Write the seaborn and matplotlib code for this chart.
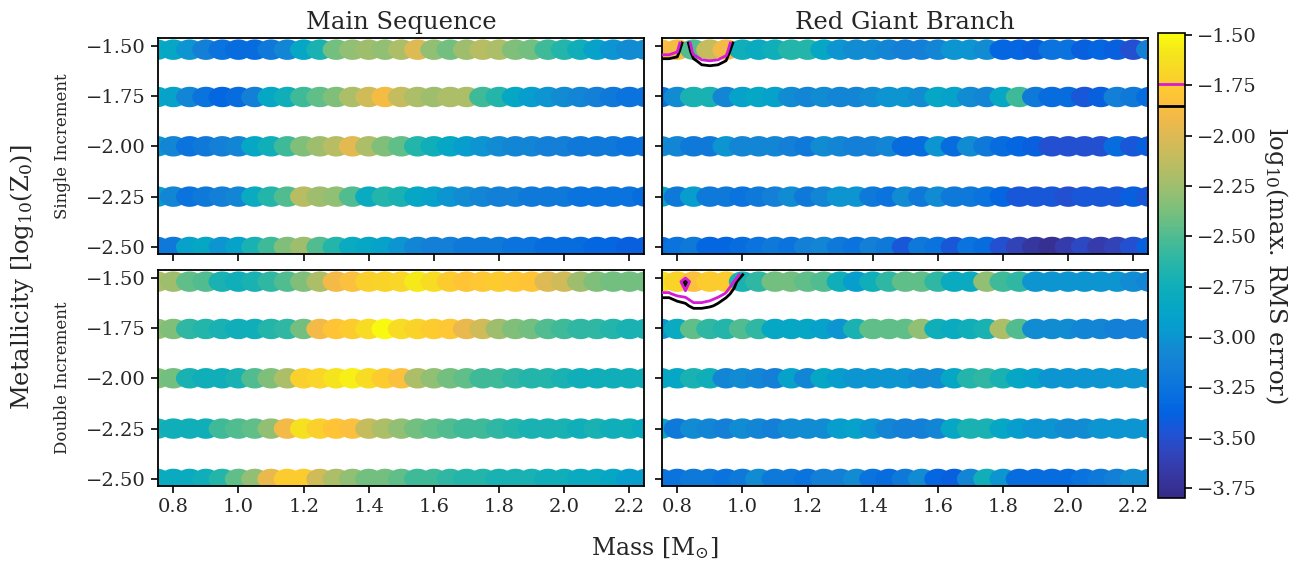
import numpy as np
import pandas as pd
import matplotlib
matplotlib.use("Agg")
import matplotlib.pyplot as plt
from matplotlib.colors import LinearSegmentedColormap, Normalize
from matplotlib.cm import ScalarMappable
from matplotlib.path import Path
import seaborn as sns

# ---- data ----
masses = [0.75, 0.80, 0.85, 0.90, 0.95, 1.00, 1.05, 1.10, 1.15, 1.20, 1.25,
          1.30, 1.35, 1.40, 1.45, 1.50, 1.55, 1.60, 1.65, 1.70, 1.75, 1.80,
          1.85, 1.90, 1.95, 2.00, 2.05, 2.10, 2.15, 2.20, 2.25]
metallicities = [-1.52, -1.755, -2.0, -2.25, -2.5]

# log10(max RMS error), one row per metallicity
ms_single = [
    [-2.8, -2.85, -3.0, -3.15, -3.25, -3.3, -3.3, -3.2, -3.1, -2.85, -2.7, -2.4, -2.3, -2.25, -2.3, -2.2,
     -2.0, -2.3, -2.4, -2.25, -2.15, -2.2, -2.35, -2.4, -2.55, -2.65, -2.75, -2.9, -3.0, -3.05, -3.05],
    [-2.85, -2.9, -3.1, -3.25, -3.35, -3.3, -3.15, -2.85, -2.75, -2.55, -2.45, -2.35, -2.2, -2.05, -1.88, -2.1,
     -2.2, -2.25, -2.2, -2.2, -2.55, -2.65, -2.85, -2.95, -3.0, -3.05, -3.1, -3.15, -3.2, -3.25, -3.25],
    [-3.0, -3.1, -3.25, -3.2, -3.15, -3.1, -2.85, -2.75, -2.55, -2.35, -2.25, -2.15, -1.97, -2.2, -2.35, -2.45,
     -2.65, -2.75, -2.85, -2.95, -3.0, -3.05, -3.1, -3.1, -3.15, -3.15, -3.2, -3.2, -3.2, -3.25, -3.25],
    [-2.95, -3.1, -3.25, -3.2, -3.15, -3.1, -2.8, -2.65, -2.5, -2.15, -2.25, -2.3, -2.5, -2.8, -2.65, -2.7,
     -2.85, -2.9, -3.0, -3.05, -3.1, -3.15, -3.15, -3.2, -3.2, -3.2, -3.25, -3.25, -3.25, -3.25, -3.3],
    [-3.2, -3.2, -2.9, -2.85, -3.0, -2.9, -2.7, -2.55, -2.35, -2.25, -2.5, -2.65, -2.8, -2.85, -2.9, -3.0,
     -3.1, -3.15, -3.15, -3.2, -3.2, -3.2, -3.25, -3.25, -3.3, -3.3, -3.3, -3.35, -3.35, -3.4, -3.4],
]
rgb_single = [
    [-1.85, -1.88, -2.5, -2.1, -1.9, -2.75, -2.8, -2.75, -2.65, -2.65, -2.85, -3.0, -3.05, -3.05, -3.1, -3.15,
     -3.15, -3.1, -3.0, -3.0, -3.05, -3.35, -3.35, -3.4, -3.25, -3.25, -3.4, -3.35, -3.4, -3.5, -3.15],
    [-3.25, -3.05, -2.7, -2.7, -3.1, -2.9, -2.85, -2.9, -3.05, -3.1, -3.05, -3.1, -3.1, -3.05, -3.0, -3.0,
     -3.05, -2.85, -2.9, -3.05, -3.1, -2.85, -2.55, -3.2, -3.3, -3.3, -3.45, -3.4, -3.15, -3.2, -3.3],
    [-3.05, -3.1, -3.2, -3.2, -3.0, -3.1, -3.1, -3.1, -3.15, -3.2, -3.05, -3.1, -3.15, -3.15, -3.1, -3.3,
     -3.3, -3.0, -3.3, -3.05, -3.2, -3.3, -3.35, -3.4, -3.5, -3.5, -3.5, -3.5, -3.3, -3.45, -3.4],
    [-2.85, -3.2, -2.95, -3.2, -3.2, -3.25, -3.2, -3.15, -3.05, -3.2, -3.1, -3.0, -3.0, -3.2, -3.25, -3.05,
     -3.2, -3.05, -3.2, -3.2, -3.25, -3.35, -3.45, -3.45, -3.45, -3.5, -3.45, -3.45, -3.45, -3.4, -3.45],
    [-3.3, -3.25, -3.2, -3.35, -3.35, -3.3, -3.25, -3.2, -3.25, -3.15, -3.1, -3.2, -3.25, -3.15, -3.2, -3.45,
     -3.2, -3.25, -3.45, -3.25, -3.3, -3.5, -3.6, -3.7, -3.75, -3.65, -3.55, -3.65, -3.6, -3.5, -3.4],
]
ms_double = [
    [-2.2, -2.25, -2.45, -2.5, -2.7, -2.75, -2.7, -2.6, -2.5, -2.35, -2.2, -1.9, -1.85, -1.72, -1.7, -1.68,
     -1.58, -1.65, -1.75, -1.8, -1.78, -1.75, -1.78, -1.8, -2.0, -2.05, -2.25, -2.35, -2.4, -2.4, -2.4],
    [-2.3, -2.35, -2.6, -2.65, -2.7, -2.75, -2.75, -2.65, -2.6, -2.4, -1.9, -1.8, -1.75, -1.65, -1.5, -1.65,
     -1.7, -1.75, -1.78, -1.95, -2.05, -2.25, -2.35, -2.4, -2.5, -2.55, -2.6, -2.6, -2.65, -2.7, -2.7],
    [-2.35, -2.4, -2.7, -2.75, -2.75, -2.7, -2.5, -2.35, -2.2, -1.72, -1.68, -1.6, -1.55, -1.65, -1.75, -1.85,
     -2.2, -2.3, -2.4, -2.45, -2.55, -2.55, -2.6, -2.65, -2.65, -2.7, -2.75, -2.75, -2.75, -2.75, -2.75],
    [-2.7, -2.75, -2.75, -2.75, -2.55, -2.5, -2.45, -2.3, -1.9, -1.62, -1.72, -1.8, -1.85, -2.1, -2.2, -2.3,
     -2.4, -2.45, -2.5, -2.55, -2.55, -2.6, -2.65, -2.7, -2.7, -2.7, -2.75, -2.7, -2.75, -2.75, -2.8],
    [-2.8, -2.8, -2.8, -2.75, -2.65, -2.45, -2.3, -1.95, -1.75, -1.75, -2.05, -2.2, -2.3, -2.4, -2.4, -2.45,
     -2.55, -2.55, -2.6, -2.65, -2.65, -2.7, -2.7, -2.7, -2.75, -2.75, -2.8, -2.8, -2.85, -2.95, -2.95],
]
rgb_double = [
    [-1.6, -1.7, -1.85, -1.75, -1.75, -2.7, -2.6, -2.4, -2.4, -2.45, -2.5, -2.75, -2.95, -2.75, -2.6, -2.45,
     -2.45, -2.6, -2.8, -2.8, -2.3, -2.55, -2.6, -3.0, -3.0, -3.0, -3.0, -3.0, -3.0, -3.05, -3.1],
    [-3.0, -2.8, -2.45, -2.6, -2.65, -2.5, -2.6, -2.85, -2.85, -2.85, -2.9, -3.0, -2.7, -2.45, -2.45, -2.45,
     -2.3, -2.75, -2.8, -2.75, -2.7, -2.2, -2.5, -3.05, -3.05, -3.05, -3.1, -3.1, -3.15, -3.15, -3.15],
    [-2.85, -2.85, -2.7, -2.75, -3.1, -3.05, -3.1, -3.15, -2.9, -3.1, -2.85, -2.95, -3.0, -3.0, -3.0, -3.0,
     -3.05, -3.05, -2.85, -2.65, -2.6, -2.7, -2.85, -2.9, -3.0, -3.0, -3.0, -3.0, -3.0, -3.0, -3.0],
    [-2.85, -3.2, -3.05, -3.1, -3.15, -3.05, -3.1, -3.15, -3.05, -3.05, -3.05, -2.95, -2.9, -3.0, -3.1, -3.15,
     -3.15, -3.1, -2.85, -2.7, -2.7, -2.85, -2.95, -3.0, -3.0, -3.05, -3.05, -3.0, -3.0, -3.0, -3.0],
    [-3.25, -3.25, -3.2, -3.2, -3.25, -3.2, -3.05, -3.2, -3.2, -3.25, -3.15, -3.15, -3.05, -3.25, -3.3, -3.2,
     -3.05, -3.35, -3.4, -3.1, -2.75, -3.0, -3.3, -3.3, -3.3, -3.3, -3.25, -3.2, -3.15, -3.05, -3.05],
]

# finer error field near the low-mass, high-metallicity corner (for the contours)
contour_masses = [0.75, 0.775, 0.80, 0.825, 0.85, 0.875, 0.90, 0.925, 0.95, 0.975, 1.00, 1.025, 1.05]
rgb_single_contour_z = [-1.48, -1.53, -1.58, -1.63, -1.70]
rgb_single_contour = [
    [-1.55, -1.55, -1.6, -2.0, -1.55, -1.5, -1.5, -1.5, -1.55, -1.9, -2.3, -2.3, -2.3],
    [-1.66, -1.66, -1.74, -2.2, -1.66, -1.6, -1.6, -1.6, -1.66, -2.1, -2.6, -2.6, -2.6],
    [-1.94, -1.94, -1.965, -2.4, -1.94, -1.78, -1.76, -1.78, -1.88, -2.3, -2.8, -2.8, -2.8],
    [-2.3, -2.3, -2.3, -2.6, -2.3, -2.03, -2.0, -2.03, -2.2, -2.5, -2.9, -2.9, -2.9],
    [-2.6, -2.6, -2.6, -2.7, -2.6, -2.5, -2.5, -2.5, -2.6, -2.7, -3.0, -3.0, -3.0],
]
rgb_double_contour_z = [-1.48, -1.52, -1.58, -1.64, -1.70]
rgb_double_contour = [
    [-1.5, -1.5, -1.5, -1.5, -1.5, -1.5, -1.5, -1.5, -1.55, -1.62, -1.8, -2.2, -2.2],
    [-1.6, -1.6, -1.58, -1.95, -1.55, -1.55, -1.55, -1.57, -1.62, -1.75, -2.1, -2.5, -2.5],
    [-1.76, -1.76, -1.7, -1.68, -1.62, -1.62, -1.64, -1.68, -1.76, -1.95, -2.4, -2.7, -2.7],
    [-2.05, -2.05, -1.95, -1.9, -1.79, -1.79, -1.82, -1.9, -2.05, -2.25, -2.6, -2.8, -2.8],
    [-2.4, -2.4, -2.3, -2.3, -2.1, -2.1, -2.2, -2.3, -2.4, -2.5, -2.7, -2.9, -2.9],
]
contour_levels = [-1.855, -1.745]
contour_colors = ["black", "#d61ad6"]

vmin, vmax = -3.80, -1.49
cbar_ticks = [-1.50, -1.75, -2.00, -2.25, -2.50, -2.75, -3.00, -3.25, -3.50, -3.75]
x_ticks = [0.8, 1.0, 1.2, 1.4, 1.6, 1.8, 2.0, 2.2]
y_ticks = [-1.50, -1.75, -2.00, -2.25, -2.50]

# parula-like colour map
parula = [
    (0.2081, 0.1663, 0.5292), (0.2123, 0.2138, 0.6270), (0.1959, 0.2645, 0.7279),
    (0.1253, 0.3242, 0.8303), (0.0117, 0.3875, 0.8820), (0.0329, 0.4430, 0.8720),
    (0.0723, 0.4887, 0.8467), (0.0749, 0.5375, 0.8263), (0.0265, 0.6137, 0.8135),
    (0.0228, 0.6535, 0.7768), (0.0589, 0.6838, 0.7254), (0.1453, 0.7098, 0.6646),
    (0.2586, 0.7317, 0.5954), (0.3953, 0.7459, 0.5244), (0.5300, 0.7491, 0.4661),
    (0.6473, 0.7456, 0.4188), (0.7525, 0.7384, 0.3768), (0.8507, 0.7299, 0.3360),
    (0.9450, 0.7261, 0.2886), (0.9990, 0.7653, 0.2164), (0.9788, 0.8271, 0.1633),
    (0.9589, 0.8949, 0.1132), (0.9763, 0.9831, 0.0538),
]
cmap = LinearSegmentedColormap.from_list("parula", parula)
norm = Normalize(vmin=vmin, vmax=vmax)

# slightly wide oval marker so neighbouring points merge into a band
theta = np.linspace(0, 2 * np.pi, 64)
oval = Path(np.column_stack([np.cos(theta), 0.75 * np.sin(theta)]), closed=True)

sns.set_style("ticks")
plt.rcParams["font.family"] = ["DejaVu Serif"]
plt.rcParams["mathtext.fontset"] = "dejavuserif"

fig = plt.figure(figsize=(13.09, 5.68), dpi=100)
left_x, right_x, panel_w = 0.1207, 0.5057, 0.3716
top_y, bot_y, panel_h = 0.5528, 0.1444, 0.3810
axes = {
    ("ms", "single"): fig.add_axes([left_x, top_y, panel_w, panel_h]),
    ("rgb", "single"): fig.add_axes([right_x, top_y, panel_w, panel_h]),
    ("ms", "double"): fig.add_axes([left_x, bot_y, panel_w, panel_h]),
    ("rgb", "double"): fig.add_axes([right_x, bot_y, panel_w, panel_h]),
}
cax = fig.add_axes([0.8846, 0.1232, 0.0206, 0.8187])

grids = {
    ("ms", "single"): ms_single,
    ("rgb", "single"): rgb_single,
    ("ms", "double"): ms_double,
    ("rgb", "double"): rgb_double,
}

cs = None
for key, ax in axes.items():
    vals = grids[key]
    df = pd.DataFrame({
        "mass": np.tile(masses, len(metallicities)),
        "metallicity": np.repeat(metallicities, len(masses)),
        "err": np.ravel(vals),
    })
    sns.scatterplot(data=df, x="mass", y="metallicity", hue="err", palette=cmap,
                    hue_norm=norm, s=385, marker=oval, linewidth=0,
                    legend=False, ax=ax, zorder=2)
    ax.set_xlim(0.753, 2.246)
    ax.set_ylim(-2.535, -1.46)
    ax.set_xticks(x_ticks)
    ax.set_yticks(y_ticks)
    ax.set_xlabel("")
    ax.set_ylabel("")
    ax.tick_params(direction="out", length=5, width=1.2, labelsize=14, color="black")
    for sp in ax.spines.values():
        sp.set_visible(True)
        sp.set_color("black")
        sp.set_linewidth(1.3)
    if key[1] == "single":
        ax.set_xticklabels([])
    else:
        ax.set_xticklabels([f"{t:.1f}" for t in x_ticks])
    if key[0] == "rgb":
        ax.set_yticklabels([])
    else:
        ax.set_yticklabels([f"\u2212{abs(t):.2f}" for t in y_ticks])

    if key == ("rgb", "single"):
        cs = ax.contour(contour_masses, rgb_single_contour_z, rgb_single_contour,
                        levels=contour_levels, colors=contour_colors, linewidths=2.0, zorder=4)
    if key == ("rgb", "double"):
        ax.contour(contour_masses, rgb_double_contour_z, rgb_double_contour,
                   levels=contour_levels, colors=contour_colors, linewidths=2.0, zorder=4)

axes[("ms", "single")].set_title("Main Sequence", fontsize=17.5, pad=6)
axes[("rgb", "single")].set_title("Red Giant Branch", fontsize=17.5, pad=6)

sm = ScalarMappable(norm=norm, cmap=cmap)
cbar = fig.colorbar(sm, cax=cax)
cbar.set_ticks(cbar_ticks)
cbar.set_ticklabels([f"\u2212{abs(t):.2f}" for t in cbar_ticks])
cbar.ax.tick_params(labelsize=14, length=5, width=1.2, color="black")
cbar.outline.set_linewidth(1.2)
cbar.outline.set_edgecolor("black")
cbar.add_lines(cs)
cbar.set_label("log$_{10}$(max. RMS error)", rotation=270, fontsize=17.5, labelpad=24)

fig.text(0.017, 0.512, "Metallicity [log$_{10}$(Z$_0$)]", rotation=90,
         ha="center", va="center", fontsize=17.5)
fig.text(0.0474, 0.743, "Single Increment", rotation=90, ha="center", va="center", fontsize=12)
fig.text(0.0474, 0.3345, "Double Increment", rotation=90, ha="center", va="center", fontsize=12)
fig.text(0.5, 0.035, "Mass [M$_{\\odot}$]", ha="center", va="center", fontsize=17)

fig.savefig("out.png", dpi=100)
